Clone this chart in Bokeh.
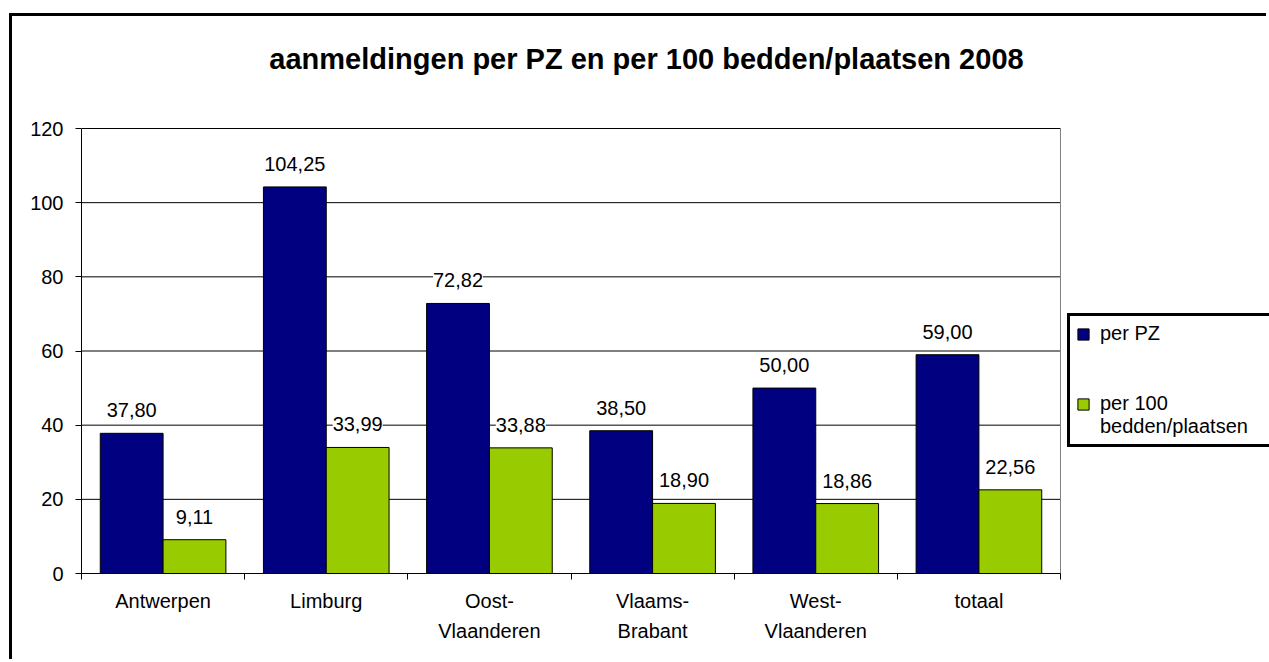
from bokeh.plotting import figure
from bokeh.models import (Range1d, FixedTicker, ColumnDataSource, LabelSet, Legend,
                          LegendItem, Label)
from bokeh.core.properties import value
from bokeh.embed import file_html
from bokeh.resources import INLINE

# ---- data ----
title_text = "aanmeldingen per PZ en per 100 bedden/plaatsen 2008"
categories = ["Antwerpen", "Limburg", "Oost-\nVlaanderen", "Vlaams-\nBrabant",
              "West-\nVlaanderen", "totaal"]
per_pz = [37.80, 104.25, 72.82, 38.50, 50.00, 59.00]
per_100 = [9.11, 33.99, 33.88, 18.90, 18.86, 22.56]
series_names = ["per PZ", "\nper 100\nbedden/plaatsen"]
y_ticks = [0, 20, 40, 60, 80, 100, 120]

# ---- styles / layout ----
FONT = "Liberation Sans"
BLUE = "#000080"
GREEN = "#99CC00"
BAR_W = 0.385
CANVAS_W, CANVAS_H = 1257, 646
LEFT = 69
PLOT_W_PX, PLOT_H_PX = 979, 445     # size of the category/value area inside the frame
FRAME_H_PX = 557
BOTTOM = CANVAS_H - FRAME_H_PX
FRAME_W_PX = CANVAS_W - LEFT


def fmt(v):
    return f"{v:.2f}".replace(".", ",")


n = len(categories)
y_max = y_ticks[-1]
centers = [i + 0.5 for i in range(n)]
src_a = ColumnDataSource(dict(x=[c - BAR_W / 2 for c in centers], top=per_pz,
                              lbl=[fmt(v) for v in per_pz]))
src_b = ColumnDataSource(dict(x=[c + BAR_W / 2 for c in centers], top=per_100,
                              lbl=[fmt(v) for v in per_100]))
grid_src = ColumnDataSource(dict(y=y_ticks))

x_end = n * FRAME_W_PX / PLOT_W_PX
y_end = y_max * FRAME_H_PX / PLOT_H_PX
p = figure(width=CANVAS_W, height=CANVAS_H, x_range=Range1d(0, x_end),
           y_range=Range1d(0, y_end),
           output_backend="svg", toolbar_location=None,
           min_border_left=LEFT, min_border_right=0, min_border_top=0,
           min_border_bottom=BOTTOM)

# outer chart border (left / top edges visible), via CSS on the figure element
p.styles = {"margin-left": "9px", "margin-top": "13px",
            "border-left": "3px solid black", "border-top": "3px solid black"}

p.background_fill_color = "white"
p.border_fill_color = "white"
p.outline_line_color = None

# title (centred over the whole chart)
p.add_layout(Label(x=565, y=FRAME_H_PX - 42, x_units="screen", y_units="screen",
                   text=title_text, text_font=FONT, text_font_size="29px",
                   text_font_style="bold", text_color="black",
                   text_align="center", text_baseline="middle"))

# horizontal grid lines across the category area
p.xgrid.visible = False
p.ygrid.visible = False
p.segment(x0=0, x1=n, y0="y", y1="y", source=grid_src, line_color="black",
          line_width=1, level="underlay")
# plot-area right edge
p.segment(x0=[n], x1=[n], y0=[0], y1=[y_max], line_color="#808080", line_width=1,
          level="underlay")

r1 = p.vbar(x="x", top="top", width=BAR_W, source=src_a, fill_color=BLUE,
            line_color="black", line_width=1)
r2 = p.vbar(x="x", top="top", width=BAR_W, source=src_b, fill_color=GREEN,
            line_color="black", line_width=1)

for s in (src_a, src_b):
    p.add_layout(LabelSet(x="x", y="top", text="lbl", source=s, y_offset=23,
                          text_align="center", text_baseline="middle",
                          text_font=value(FONT), text_font_size=value("20px"),
                          text_color="black",
                          background_fill_color="white"))

# y axis
ya = p.yaxis[0]
ya.bounds = (0, y_max)
ya.ticker = FixedTicker(ticks=y_ticks)
ya.axis_line_color = "black"
ya.major_tick_line_color = "black"
ya.major_tick_out = 6
ya.major_tick_in = 0
ya.minor_tick_line_color = None
ya.major_label_standoff = 12
ya.major_label_text_font = FONT
ya.major_label_text_font_size = "20px"
ya.major_label_text_color = "black"

# x axis: labels at category centers, ticks at category boundaries
xa = p.xaxis[0]
xa.bounds = (0, n)
xa.ticker = FixedTicker(ticks=centers, minor_ticks=list(range(n + 1)))
xa.major_label_overrides = {c: lab for c, lab in zip(centers, categories)}
xa.axis_line_color = "black"
xa.major_tick_out = 0
xa.major_tick_in = 0
xa.major_tick_line_color = None
xa.minor_tick_line_color = "black"
xa.minor_tick_out = 6
xa.minor_tick_in = 0
xa.major_label_standoff = 10
xa.major_label_text_font = FONT
xa.major_label_text_font_size = "20px"
xa.major_label_text_color = "black"
xa.major_label_text_line_height = 1.4

# legend (drawn in the frame area right of the categories)
legend = Legend(items=[LegendItem(label=series_names[0], renderers=[r1]),
                       LegendItem(label=series_names[1], renderers=[r2])],
                location=(PLOT_W_PX + 7, 126), orientation="vertical",
                border_line_color="black", border_line_width=3, border_line_alpha=1,
                background_fill_color="white", background_fill_alpha=1,
                padding=6, spacing=24, margin=0,
                glyph_width=14, glyph_height=14, label_standoff=10,
                label_width=220, label_height=20,
                label_text_font=FONT, label_text_font_size="20px",
                label_text_color="black")
p.add_layout(legend)

open("out.html", "w").write(file_html(p, INLINE))
